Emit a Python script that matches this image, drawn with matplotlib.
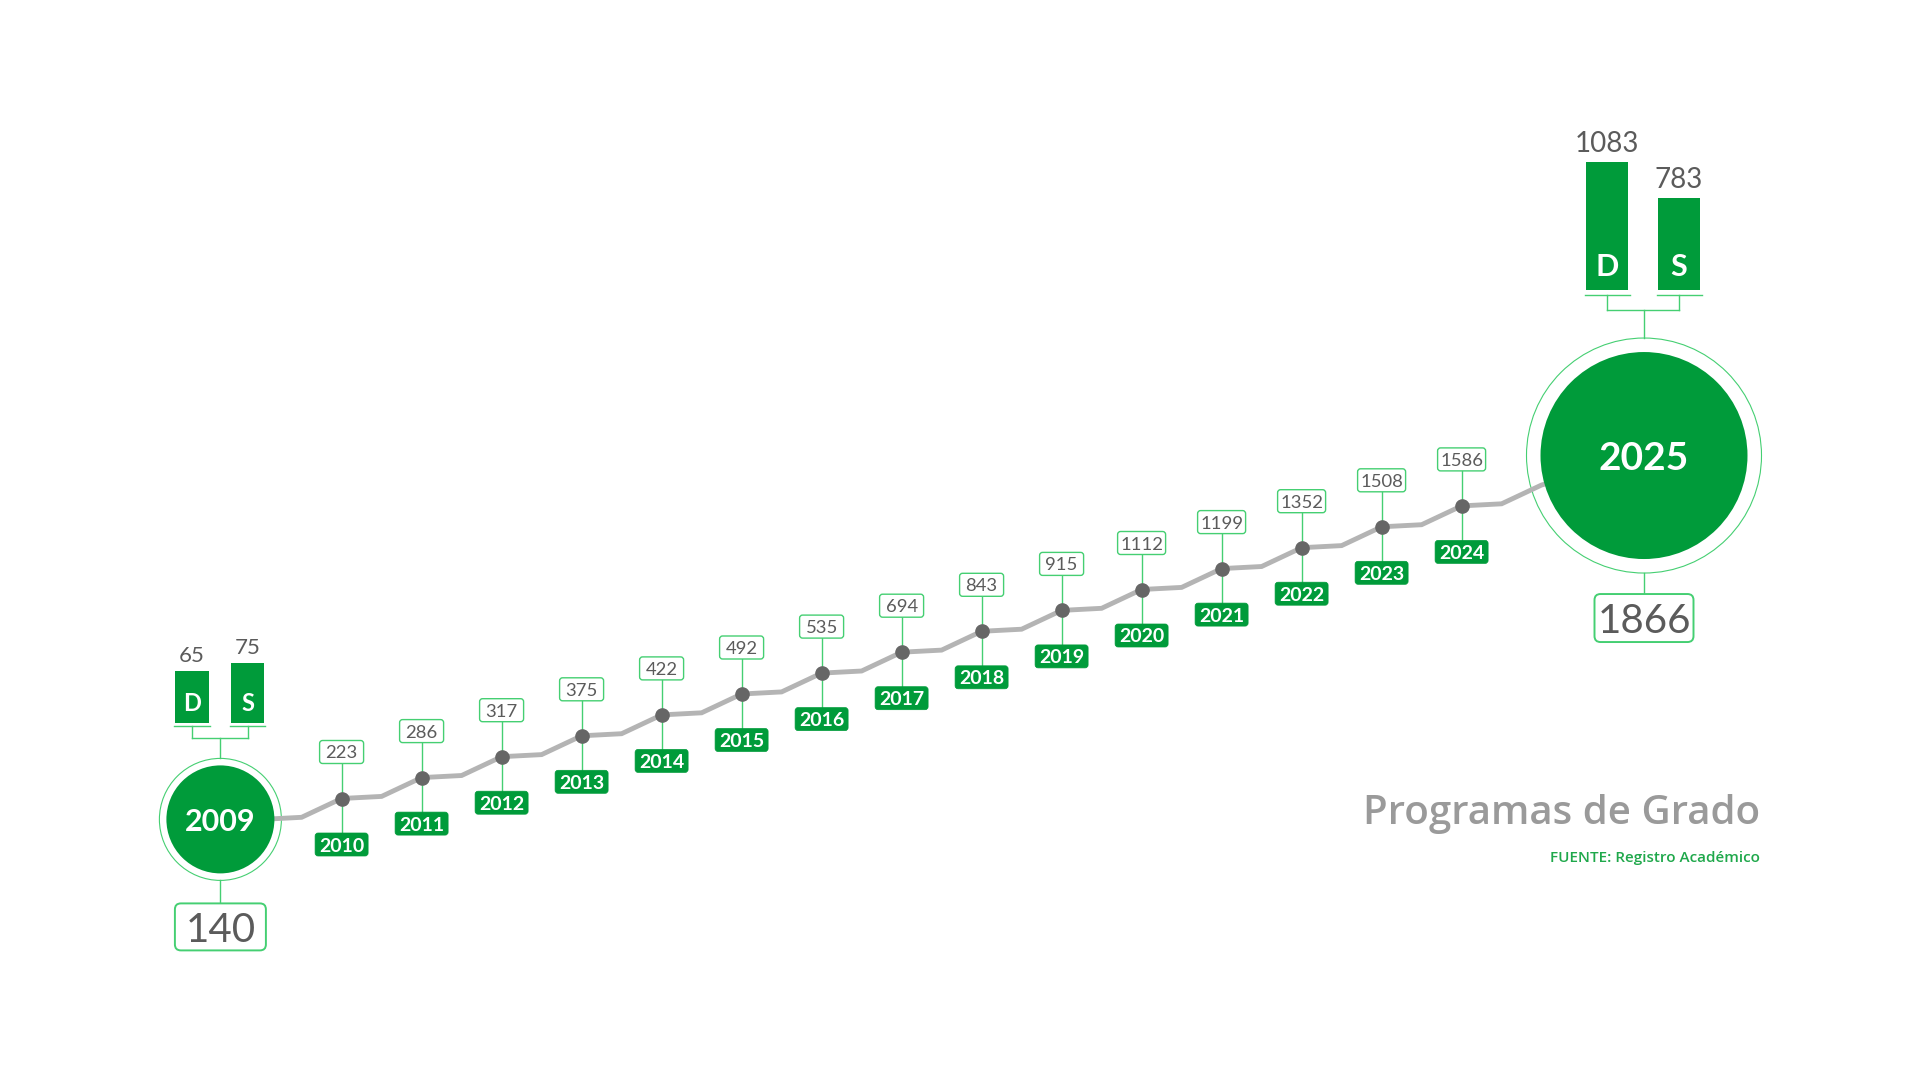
import matplotlib.pyplot as plt
from matplotlib.patches import FancyBboxPatch, Ellipse

# data
years = list(range(2010, 2025))
totals = [223, 286, 317, 375, 422, 492, 535, 694, 843, 915, 1112, 1199, 1352, 1508, 1586]
first_year, first_total = 2009, 140
last_year, last_total = 2025, 1866
first_split = [65, 75]
last_split = [1083, 783]
split_labels = ['D', 'S']
title = 'Programas de Grado'
source = 'FUENTE: Registro Académico'

GREEN = '#009b3a'
LIGHT = '#45cf72'
GRAY_LINE = '#b4b4b4'
DOT = '#666666'
TXT = '#5b5b5b'

plt.rcParams['font.family'] = ['Lato', 'DejaVu Sans']

# one year step = 80 px across, one level step = 20.9 px up
PX = 1 / 80
PY = 1 / 20.9

fig = plt.figure(figsize=(19.2, 10.8), dpi=100)
ax = fig.add_axes([0, 0, 1, 1])
x0 = years[0] - 341.6 * PX
y0 = -(1080 - 798.5) * PY
ax.set_xlim(x0, x0 + 1920 * PX)
ax.set_ylim(y0, y0 + 1080 * PY)
ax.axis('off')

levels = list(range(len(years)))


def rbox(cx, cy, w, h, fc, ec, lw, r=4, z=3):
    p = FancyBboxPatch((cx - w / 2 * PX, cy - h / 2 * PY), w * PX, h * PY,
                       boxstyle=f'round,pad=0,rounding_size={r * PX}',
                       mutation_aspect=PY / PX, fc=fc, ec=ec, lw=lw, zorder=z)
    ax.add_patch(p)


def circle(cx, cy, r, **kw):
    ax.add_patch(Ellipse((cx, cy), 2 * r * PX, 2 * r * PY, **kw))


# big circles (layout)
c1x, c1y = first_year - 0.515, -1
c2x, c2y = last_year + 1.28, len(years) + 1.41

# grey stepped line
lx = [c1x, first_year]
ly = [-1, -1]
for yr, lv in zip(years + [last_year], levels + [len(years)]):
    lx += [yr - 0.5, yr]
    ly += [lv - 0.9, lv]
lx.append(c2x)
ly.append(c2y)
ax.plot(lx, ly, color=GRAY_LINE, lw=3.5, solid_joinstyle='miter', zorder=2)

# yearly points, stems and labels
for yr, lv, tot in zip(years, levels, totals):
    ax.plot([yr, yr], [lv + 35.5 * PY, lv - 35 * PY], color=LIGHT, lw=1.0, zorder=1)
    w = 44 if tot < 1000 else 48
    rbox(yr, lv + 46.5 * PY, w, 23, 'white', LIGHT, 1.0, r=3)
    ax.text(yr, lv + 46.5 * PY, str(tot), ha='center', va='center_baseline',
            fontsize=13.3, color=TXT, zorder=4)
    rbox(yr, lv - 46 * PY, 53, 23, GREEN, GREEN, 0.5, r=3)
    ax.text(yr, lv - 46 * PY, str(yr), ha='center', va='center_baseline',
            fontsize=14, fontweight='bold', color='white', zorder=4)
ax.plot(years, levels, 'o', ms=9.5, color=DOT, zorder=5)


def group(cx, cy, year, total, split, r_out, r_in, yfs, box_gap, box_w, box_h, tfs,
          bar_bot, offs, bw, scale, line_gap, brk, vfs, lfs, lpos):
    circle(cx, cy, r_out, fill=False, ec=LIGHT, lw=0.8, zorder=1)
    circle(cx, cy, r_in, fc=GREEN, ec='none', zorder=3)
    ax.text(cx, cy, str(year), ha='center', va='center_baseline', fontsize=yfs,
            fontweight='bold', color='white', zorder=4)
    # total box below
    ax.plot([cx, cx], [cy - r_out * PY, cy - (box_gap - box_h / 2) * PY], color=LIGHT, lw=1.0, zorder=1)
    rbox(cx, cy - box_gap * PY, box_w, box_h, 'white', LIGHT, 1.4, r=6)
    ax.text(cx, cy - box_gap * PY, str(total), ha='center', va='center_baseline',
            fontsize=tfs, color=TXT, zorder=4)
    # D / S bars above
    bx = [cx + o * PX for o in offs]
    hs = [v * scale * PY for v in split]
    ax.bar(bx, hs, width=bw * PX, bottom=cy + bar_bot * PY, color=GREEN, zorder=3)
    for x, h, v, lab in zip(bx, hs, split, split_labels):
        top = cy + bar_bot * PY + h
        ax.text(x, top + 5 * PY, str(v), ha='center', va='bottom', fontsize=vfs, color=TXT)
        ax.text(x, cy + (bar_bot + lpos) * PY, lab, ha='center', va='center_baseline',
                fontsize=lfs, fontweight='bold', color='white', zorder=4)
        ax.plot([x - (bw / 2 + 1) * PX, x + (bw / 2 + 1) * PX], [cy + (bar_bot - line_gap) * PY] * 2,
                color=LIGHT, lw=1.0)
        ax.plot([x, x], [cy + (bar_bot - line_gap) * PY, cy + brk * PY], color=LIGHT, lw=1.0)
    ax.plot([bx[0], bx[1]], [cy + brk * PY] * 2, color=LIGHT, lw=1.0)
    ax.plot([cx, cx], [cy + brk * PY, cy + r_out * PY], color=LIGHT, lw=1.0)


group(c1x, c1y, first_year, first_total, first_split, 61, 54, 22, 107.5, 91, 47, 29,
      96, [-28.4, 27.1], 34, 0.8, 3, 81, 16, 17, 22)
group(c2x, c2y, last_year, last_total, last_split, 117.5, 103.5, 28, 162.5, 99, 48, 29,
      165.5, [-37, 35], 43, 0.118, 5, 145.5, 20, 22, 26)

fig.text(1760 / 1920, 1 - 814 / 1080, title, ha='right', va='center', fontsize=29,
         color='#9a9a9a', family=['Open Sans', 'DejaVu Sans'], fontweight='semibold')
fig.text(1760 / 1920, 1 - 858 / 1080, source, ha='right', va='center', fontsize=11,
         color='#1fa84b', family=['Open Sans', 'DejaVu Sans'], fontweight='semibold')

fig.savefig('out.png', dpi=100, facecolor='white')
